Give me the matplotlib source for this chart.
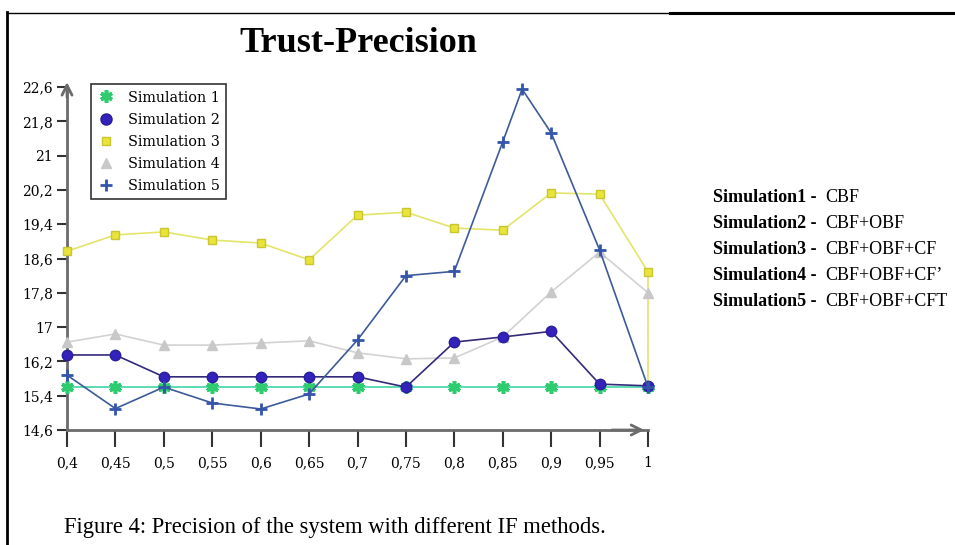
import matplotlib.pyplot as plt
from matplotlib.lines import Line2D

# x positions of the measurements
x = [0.4, 0.45, 0.5, 0.55, 0.6, 0.65, 0.7, 0.75, 0.8, 0.85, 0.9, 0.95, 1.0]
x_sim3 = [0.4, 0.45, 0.5, 0.55, 0.6, 0.65, 0.7, 0.75, 0.8, 0.85, 0.9, 0.95, 1.0, 1.0]
x_sim5 = [0.4, 0.45, 0.5, 0.55, 0.6, 0.65, 0.7, 0.75, 0.8, 0.85, 0.87, 0.9, 0.95, 1.0]

sim1 = [15.6, 15.6, 15.6, 15.6, 15.6, 15.6, 15.6, 15.6, 15.6, 15.6, 15.6, 15.6, 15.6]
sim2 = [16.35, 16.35, 15.84, 15.84, 15.84, 15.84, 15.84, 15.6, 16.65, 16.77, 16.9, 15.67, 15.63]
sim3 = [18.77, 19.15, 19.22, 19.03, 18.96, 18.57, 19.61, 19.68, 19.31, 19.26, 20.13, 20.1, 18.29, 15.6]
sim4 = [16.65, 16.84, 16.58, 16.58, 16.63, 16.68, 16.4, 16.26, 16.28, 16.77, 17.82, 18.75, 17.8]
sim5 = [15.88, 15.1, 15.6, 15.23, 15.09, 15.44, 16.7, 18.2, 18.3, 21.32, 22.55, 21.53, 18.8, 15.6]

x_labels = ['0,4', '0,45', '0,5', '0,55', '0,6', '0,65', '0,7', '0,75', '0,8', '0,85', '0,9', '0,95', '1']
y_ticks = [14.6, 15.4, 16.2, 17.0, 17.8, 18.6, 19.4, 20.2, 21.0, 21.8, 22.6]
y_labels = ['14,6', '15,4', '16,2', '17', '17,8', '18,6', '19,4', '20,2', '21', '21,8', '22,6']

sim_names = ['Simulation 1', 'Simulation 2', 'Simulation 3', 'Simulation 4', 'Simulation 5']
methods = ['CBF', 'CBF+OBF', 'CBF+OBF+CF', 'CBF+OBF+CF\u2019', 'CBF+OBF+CFT']

plt.rcParams['font.family'] = ['Liberation Serif', 'DejaVu Serif']
chart_font = 'DejaVu Serif'  # wide serif, close to the old chart font

W, H = 955, 545
fig = plt.figure(figsize=(W / 100, H / 100), dpi=100)
ax = fig.add_axes([67 / W, 1 - 430 / H, (648 - 67) / W, (430 - 87) / H])

axis_col = '#6b6b6b'

# series
ax.plot(x, sim1, color='#3fd4a8', lw=1.2, marker=(6, 2, 0), ms=9, mew=2.6,
        mec='#2ecc6e', mfc='#2ecc6e', clip_on=False, zorder=3)
ax.plot(x, sim2, color='#332a7a', lw=1.2, marker='o', ms=7.5,
        mfc='#3322bb', mec='#2a1f9a', clip_on=False, zorder=4)
ax.plot(x_sim3, sim3, color='#e4e46a', lw=1.2, marker='s', ms=6, markevery=list(range(13)),
        mfc='#e8e43a', mec='#c9c632', clip_on=False, zorder=3)
ax.plot(x, sim4, color='#d2d2d2', lw=1.2, marker='^', ms=7,
        mfc='#c8c8c8', mec='#c8c8c8', clip_on=False, zorder=3)
ax.plot(x_sim5, sim5, color='#3d5a9a', lw=1.2, marker='+', ms=9, mew=2,
        mec='#3355aa', clip_on=False, zorder=5)

ax.set_xlim(0.4, 1.0)
ax.set_ylim(14.6, 22.6)
ax.set_xticks(x)
ax.set_xticklabels(x_labels, family=chart_font)
ax.set_yticks(y_ticks)
ax.set_yticklabels(y_labels, family=chart_font)
ax.tick_params(axis='x', length=12, width=1.5, color='#333333', pad=7, labelsize=10)
ax.tick_params(axis='y', length=7, width=1.5, color='#333333', pad=3, labelsize=10)

for s in ['top', 'right']:
    ax.spines[s].set_visible(False)
for s in ['left', 'bottom']:
    ax.spines[s].set_color(axis_col)
    ax.spines[s].set_linewidth(2)

# arrow heads at the end of the axes
ax.annotate('', xy=(0.4, 22.78), xytext=(0.4, 22.3),
            arrowprops=dict(arrowstyle='->', color=axis_col, lw=2, mutation_scale=18),
            annotation_clip=False)
ax.annotate('', xy=(0.999, 14.6), xytext=(0.96, 14.6),
            arrowprops=dict(arrowstyle='->', color=axis_col, lw=2, mutation_scale=18),
            annotation_clip=False)

# legend
handles = [
    Line2D([], [], ls='none', marker=(6, 2, 0), ms=9, mew=2.6, mec='#2ecc6e', mfc='#2ecc6e'),
    Line2D([], [], ls='none', marker='o', ms=8, mfc='#3322bb', mec='#2a1f9a'),
    Line2D([], [], ls='none', marker='s', ms=6, mfc='#e8e43a', mec='#c9c632'),
    Line2D([], [], ls='none', marker='^', ms=7, mfc='#c8c8c8', mec='#c8c8c8'),
    Line2D([], [], ls='none', marker='+', ms=9, mew=2, mec='#3355aa'),
]
leg = fig.legend(handles, sim_names, loc='upper left',
                 bbox_to_anchor=(91 / W, 1 - 84 / H),
                 prop={'family': chart_font, 'size': 10.4},
                 frameon=True, fancybox=False, edgecolor='black',
                 handlelength=1.2, handletextpad=0.9, labelspacing=0.56,
                 borderpad=0.45, borderaxespad=0)
leg.get_frame().set_linewidth(1.2)

# title
fig.text(358 / W, 1 - 44 / H, 'Trust-Precision', ha='center', va='center',
         fontsize=26, fontweight='bold')

# side notes
y_rows = [198, 223, 249, 275, 302]
for i in range(5):
    fig.text(713 / W, 1 - y_rows[i] / H, 'Simulation%d -' % (i + 1), ha='left',
             va='center', fontsize=13, fontweight='bold')
    fig.text(825 / W, 1 - y_rows[i] / H, methods[i], ha='left', va='center', fontsize=13)

# caption
fig.text(64 / W, 1 - 527 / H, 'Figure 4: Precision of the system with different IF methods.',
         ha='left', va='center', fontsize=16.3)

# page frame lines
fig.add_artist(Line2D([7 / W, 7 / W], [0, 1 - 12 / H], color='black', lw=2))
fig.add_artist(Line2D([7 / W, 670 / W], [1 - 12.5 / H, 1 - 12.5 / H], color='black', lw=1))
fig.add_artist(Line2D([670 / W, 1], [1 - 12.5 / H, 1 - 12.5 / H], color='black', lw=2.2))

fig.savefig('out.png', dpi=100)
